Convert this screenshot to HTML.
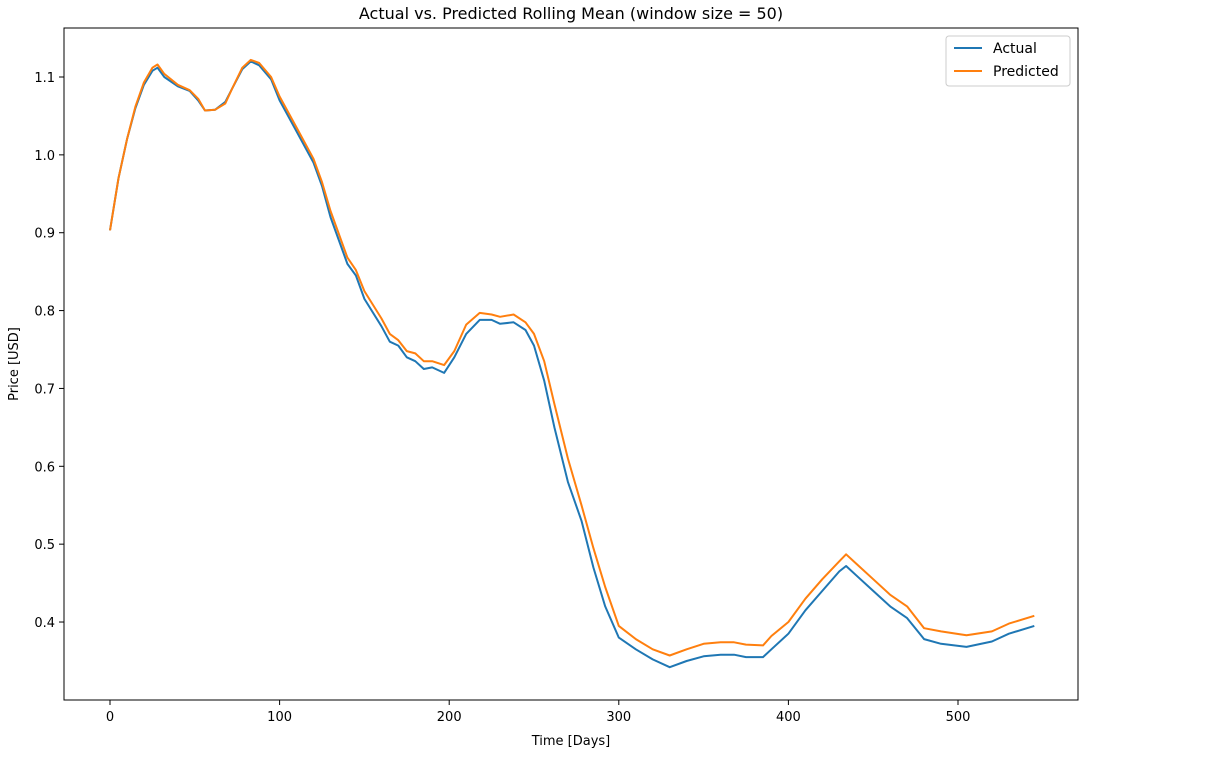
<!DOCTYPE html>
<html><head><meta charset="utf-8"><style>
body{margin:0;background:#fff;font-family:"DejaVu Sans","Liberation Sans",sans-serif;}
</style></head><body>
<svg id="chart" width="1225" height="759" style="display:block">
<text x="571" y="19" text-anchor="middle" font-size="16">Actual vs. Predicted Rolling Mean (window size = 50)</text>
<rect x="64" y="28" width="1014" height="672" fill="none" stroke="#000" stroke-width="1"/>
<g id="xt"></g><g id="yt"></g><g id="lines"></g>
<text x="571" y="745" text-anchor="middle" font-size="13">Time [Days]</text>
<text transform="translate(18,364) rotate(-90)" text-anchor="middle" font-size="13">Price [USD]</text>
<g>
<rect x="946" y="36" width="124" height="50" rx="3" fill="#fff" stroke="#ccc"/>
<line x1="954" y1="48" x2="982" y2="48" stroke="#1f77b4" stroke-width="2"/>
<text x="993" y="53" font-size="14">Actual</text>
<line x1="954" y1="71" x2="982" y2="71" stroke="#ff7f0e" stroke-width="2"/>
<text x="993" y="76" font-size="14">Predicted</text>
</g>
</svg>
<script>
const days=[0,5,10,15,20,25,28,32,40,47,52,56,62,68,72,78,83,88,95,100,110,120,125,130,140,145,150,160,165,170,175,180,185,190,197,203,210,218,225,230,238,245,250,256,262,270,278,285,292,300,310,320,330,340,350,360,368,375,385,390,400,410,420,430,434,440,450,460,470,480,490,505,520,530,545];
const actual=[0.903,0.97,1.02,1.06,1.09,1.108,1.112,1.10,1.088,1.082,1.07,1.057,1.058,1.068,1.085,1.11,1.12,1.115,1.097,1.07,1.03,0.99,0.96,0.92,0.86,0.845,0.815,0.78,0.76,0.755,0.74,0.735,0.725,0.727,0.72,0.74,0.77,0.788,0.788,0.783,0.785,0.775,0.755,0.71,0.65,0.58,0.53,0.47,0.42,0.38,0.365,0.352,0.342,0.35,0.356,0.358,0.358,0.355,0.355,0.365,0.385,0.415,0.44,0.465,0.472,0.46,0.44,0.42,0.405,0.378,0.372,0.368,0.375,0.385,0.395];
const predicted=[0.903,0.97,1.02,1.062,1.093,1.112,1.116,1.104,1.09,1.083,1.072,1.057,1.058,1.066,1.085,1.112,1.122,1.118,1.1,1.075,1.035,0.995,0.965,0.928,0.868,0.852,0.825,0.79,0.77,0.762,0.748,0.745,0.735,0.735,0.73,0.748,0.782,0.797,0.795,0.792,0.795,0.785,0.77,0.735,0.68,0.61,0.55,0.495,0.445,0.395,0.378,0.365,0.357,0.365,0.372,0.374,0.374,0.371,0.37,0.382,0.4,0.43,0.455,0.478,0.487,0.475,0.455,0.435,0.42,0.392,0.388,0.383,0.388,0.398,0.408];
const xTicks=[0,100,200,300,400,500];
const yTicks=[0.4,0.5,0.6,0.7,0.8,0.9,1.0,1.1];
const X=d=>110+d*1.696;
const Y=v=>77+(1.1-v)*778.6;
const NS="http://www.w3.org/2000/svg";
function mk(t,a,p){const e=document.createElementNS(NS,t);for(const k in a)e.setAttribute(k,a[k]);p.appendChild(e);return e;}
const xt=document.getElementById('xt'),yt=document.getElementById('yt'),lg=document.getElementById('lines');
xTicks.forEach(t=>{
  const l=mk('line',{x1:X(t),x2:X(t),y1:700,y2:705,stroke:'#000'},xt);
  
  
  const tx=mk('text',{x:X(t),y:721,'text-anchor':'middle','font-size':13},xt);tx.textContent=t;
  
  
});
yTicks.forEach(t=>{
  const l=mk('line',{x1:59,x2:64,y1:Y(t),y2:Y(t),stroke:'#000'},yt);
  
  
  const tx=mk('text',{x:55,y:Y(t)+5,'text-anchor':'end','font-size':13},yt);tx.textContent=t.toFixed(1);
  
  
});
function path(vals,color,name){
  const d=vals.map((v,i)=>(i?'L':'M')+X(days[i]).toFixed(1)+','+Y(v).toFixed(1)).join('');
  const p=mk('path',{d:d,fill:'none',stroke:color,'stroke-width':2,'stroke-linejoin':'round'},lg);
  
  
}
path(actual,'#1f77b4','actual-line');
path(predicted,'#ff7f0e','predicted-line');
</script>
</body></html>
